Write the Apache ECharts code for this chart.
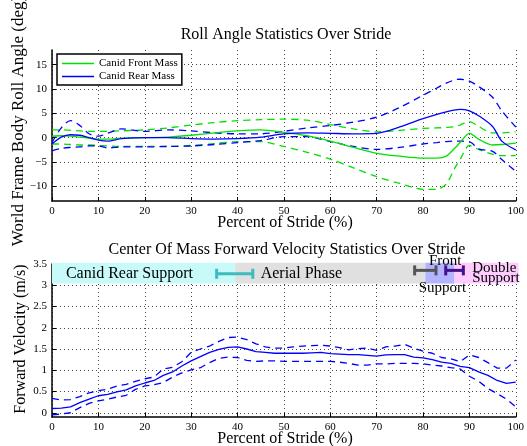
<!DOCTYPE html>
<html>
<head>
<meta charset="utf-8">
<script src="https://cdn.jsdelivr.net/npm/echarts@6/dist/echarts.min.js"></script>
<style>
  html, body { margin: 0; padding: 0; background: #fff; }
  #chart { width: 527px; height: 446px; }
</style>
</head>
<body>
<div id="chart"></div>
<script>
// ---- Roll angle statistics (deg) vs percent of stride ----
const rollPct = [0,2,4,6,8,10,12,15,20,25,30,35,40,45,50,55,60,65,70,75,80,83,85,87,88,90,92,95,97,100];
const frontMean  = [0.3,0.4,0.3,0.1,-0.1,-0.3,-0.3,-0.1,0,0.1,0.5,1.0,1.4,1.6,1.1,0.4,-0.7,-2.0,-3.2,-3.8,-4.2,-4.2,-3.8,-2.0,-1.0,0.9,-0.3,-1.5,-1.4,-1.1];
const frontUpper = [1.6,1.6,1.5,1.4,1.3,1.3,1.3,1.4,1.6,2.0,2.6,3.1,3.5,3.7,3.8,3.6,2.7,1.8,1.2,1.5,1.9,2.0,2.1,2.3,2.6,3.3,2.3,1.0,1.0,1.2];
const frontLower = [-1.3,-1.3,-1.4,-1.5,-1.5,-1.6,-1.7,-1.8,-1.8,-1.8,-1.6,-1.2,-0.8,-0.8,-1.8,-3.0,-4.4,-6.2,-8.0,-9.4,-10.6,-10.6,-9.5,-6.0,-4.5,-1.6,-2.4,-3.4,-3.7,-3.7];
const rearMean   = [-1.3,0.1,0.6,0.5,0,-0.5,-0.7,-0.2,0,0,-0.2,-0.3,-0.2,0.1,0.8,1.0,0.9,0.8,0.9,2.2,3.9,4.8,5.3,5.7,5.8,5.5,4.5,2.3,-0.7,-2.5];
const rearUpper  = [-1.0,2.0,3.5,2.5,0.8,0.3,0.9,1.8,1.3,1.6,1.4,1.0,0.8,0.8,1.3,2.0,2.5,3.2,4.2,6.2,8.7,10.2,11.2,11.9,12.0,11.6,10.5,8.3,5.5,2.2];
const rearLower  = [-2.7,-2.2,-2.0,-1.9,-1.7,-1.7,-2.1,-1.9,-1.9,-1.8,-1.7,-1.4,-1.0,-0.6,0.2,0.2,-0.8,-1.8,-2.4,-2.0,-1.3,-1.0,-0.8,-0.7,-0.7,-0.8,-2.3,-2.8,-4.5,-6.9];

// ---- Forward velocity statistics (m/s) vs percent of stride ----
const velPct = [0,2,4,6,8,10,12,14,16,18,20,22,24,26,28,30,32,34,36,38,40,42,44,46,48,50,52,54,56,58,60,62,64,66,68,70,72,74,76,78,80,82,84,86,88,90,92,94,96,98,100];
const velMean  = [0.10,0.11,0.14,0.24,0.32,0.40,0.43,0.49,0.54,0.63,0.70,0.76,0.88,0.96,1.10,1.22,1.32,1.42,1.49,1.54,1.55,1.50,1.44,1.42,1.40,1.40,1.40,1.40,1.41,1.42,1.39,1.38,1.37,1.37,1.35,1.33,1.36,1.37,1.37,1.31,1.29,1.25,1.19,1.16,1.09,1.06,0.96,0.88,0.76,0.69,0.72];
const velUpper = [0.34,0.30,0.31,0.38,0.47,0.52,0.55,0.63,0.67,0.74,0.80,0.84,1.03,1.07,1.20,1.42,1.50,1.57,1.68,1.77,1.78,1.72,1.62,1.55,1.52,1.52,1.55,1.57,1.58,1.59,1.57,1.53,1.48,1.51,1.52,1.47,1.55,1.57,1.61,1.52,1.45,1.40,1.30,1.27,1.20,1.36,1.30,1.18,1.05,1.05,1.24];
const velLower = [-0.05,-0.03,0.00,0.12,0.22,0.28,0.32,0.37,0.41,0.55,0.63,0.66,0.71,0.84,0.94,1.01,1.06,1.18,1.28,1.31,1.30,1.23,1.21,1.22,1.22,1.21,1.21,1.21,1.21,1.21,1.21,1.19,1.16,1.12,1.12,1.15,1.15,1.16,1.16,1.16,1.15,1.12,1.10,1.06,1.03,0.86,0.74,0.57,0.45,0.32,0.14];

// ---- Gait phases (percent of stride) ----
const phaseStart = [0, 39.5, 80.5, 86.8];
const phaseEnd   = [39.5, 80.5, 86.8, 100.6];
// transition spread bars: centre and half-width (percent), vertical position (m/s)
const barCentre = [39.4, 80.5, 86.8];
const barHalf   = [3.9, 2.3, 1.9];
const barLevel  = [3.27, 3.35, 3.35];
// phase name labels: text, position (percent, m/s), alignment, size
const phaseLabelText  = ['Canid Rear Support', 'Aerial Phase', 'Front', 'Support', 'Double', 'Support'];
const phaseLabelPct   = [3, 45, 84.8, 84.2, 90.6, 90.6];
const phaseLabelLevel = [3.28, 3.28, 3.58, 2.94, 3.41, 3.17];
const phaseLabelAlign = ['left', 'left', 'center', 'center', 'left', 'left'];
const phaseLabelSize  = [16, 16, 15, 15, 15, 15];

const rollTicks = [-10, -5, 0, 5, 10, 15];
const velTicks  = [0, 0.5, 1, 1.5, 2, 2.5, 3, 3.5];

const GREEN = '#00e000';
const BLUE = '#0000ff';
const SERIF = '"Liberation Serif", "DejaVu Serif", serif';
const phaseColours = ['#c8fafa', '#e0e0e0', '#b3b3ff', '#ffccff'];
const barColours = ['#3cbcbc', '#555555', '#44108c'];

const pairs = (xs, ys) => xs.map((x, i) => [x, ys[i]]);
const minusSign = v => String(v).replace('-', '\u2212');

function xAxisFor(gridIndex) {
  return {
    gridIndex, type: 'value', min: 0, max: 100, interval: 10,
    axisLine: { show: true, onZero: false, lineStyle: { color: '#000', width: 1.5 } },
    axisTick: { show: true, inside: true, length: 4, lineStyle: { color: '#000' } },
    axisLabel: { color: '#000', fontFamily: SERIF, fontSize: 11, margin: 5 },
    splitLine: { show: true, lineStyle: { color: '#444', type: [1, 3], width: 1 } }
  };
}
function yAxisFor(gridIndex, min, max, ticks) {
  return {
    gridIndex, type: 'value', min, max,
    axisLine: { show: true, onZero: false, lineStyle: { color: '#000', width: 1.5 } },
    axisTick: { show: true, inside: true, length: 4, customValues: ticks, lineStyle: { color: '#000' } },
    axisLabel: { color: '#000', fontFamily: SERIF, fontSize: 11, margin: 5, customValues: ticks, formatter: minusSign },
    splitLine: { show: true, lineStyle: { color: '#444', type: [1, 3], width: 1 } }
  };
}

function line(name, xs, ys, colour, dashed, xi, smooth) {
  return {
    name, type: 'line', xAxisIndex: xi, yAxisIndex: xi,
    data: pairs(xs, ys), symbol: 'none', showSymbol: false, smooth: smooth,
    lineStyle: { color: colour, width: 1.3, type: dashed ? [7, 5] : 'solid' },
    itemStyle: { color: colour }, z: dashed ? 3 : 4, silent: true
  };
}

const phaseData = phaseStart.map((s, i) => [s, phaseEnd[i], i]);
const barData = barCentre.map((c, i) => [c, barHalf[i], barLevel[i], i]);
const labelData = phaseLabelText.map((t, i) => [phaseLabelPct[i], phaseLabelLevel[i], i]);

const chart = echarts.init(document.getElementById('chart'));
chart.setOption({
  animation: false,
  backgroundColor: '#fff',
  grid: [
    { left: 52, right: 7, top: 50, height: 151 },
    { left: 52, right: 7, top: 264, height: 153 }
  ],
  xAxis: [xAxisFor(0), xAxisFor(1)],
  yAxis: [yAxisFor(0, -13, 18, rollTicks), yAxisFor(1, -0.1, 3.5, velTicks)],
  legend: {
    data: [
      { name: 'Canid Front Mass', icon: 'rect' },
      { name: 'Canid Rear Mass', icon: 'rect' }
    ],
    orient: 'vertical', left: 57, top: 54,
    padding: [3, 4, 2, 5], itemGap: 0, itemWidth: 32, itemHeight: 1.5,
    borderColor: '#000', borderWidth: 1.5, backgroundColor: '#fff',
    textStyle: { color: '#000', fontFamily: SERIF, fontSize: 11, lineHeight: 13, padding: [0, 0, 0, 0] }
  },
  graphic: [
    { type: 'text', x: 286, y: 35, style: { text: 'Roll Angle Statistics Over Stride', font: '16px ' + SERIF, fill: '#000', align: 'center', verticalAlign: 'middle' } },
    { type: 'text', x: 285, y: 223, style: { text: 'Percent of Stride (%)', font: '16px ' + SERIF, fill: '#000', align: 'center', verticalAlign: 'middle' } },
    { type: 'text', x: 19, y: 121, rotation: Math.PI / 2, style: { text: 'World Frame Body Roll Angle (deg)', font: '17px ' + SERIF, fill: '#000', align: 'center', verticalAlign: 'middle' } },
    { type: 'text', x: 287, y: 250, style: { text: 'Center Of Mass Forward Velocity Statistics Over Stride', font: '16px ' + SERIF, fill: '#000', align: 'center', verticalAlign: 'middle' } },
    { type: 'text', x: 285, y: 439, style: { text: 'Percent of Stride (%)', font: '16px ' + SERIF, fill: '#000', align: 'center', verticalAlign: 'middle' } },
    { type: 'text', x: 21, y: 339, rotation: Math.PI / 2, style: { text: 'Forward Velocity (m/s)', font: '16px ' + SERIF, fill: '#000', align: 'center', verticalAlign: 'middle' } }
  ],
  series: [
    // gait phase bands
    {
      type: 'custom', xAxisIndex: 1, yAxisIndex: 1, clip: false, silent: true, z: 1,
      data: phaseData,
      renderItem: (params, api) => {
        const a = api.coord([api.value(0), 3.04]);
        const b = api.coord([api.value(1), 3.53]);
        return { type: 'rect', shape: { x: a[0], y: b[1], width: b[0] - a[0], height: a[1] - b[1] },
                 style: { fill: phaseColours[api.value(2)] } };
      }
    },
    // phase transition spread bars
    {
      type: 'custom', xAxisIndex: 1, yAxisIndex: 1, clip: false, silent: true, z: 5,
      data: barData,
      renderItem: (params, api) => {
        const c = api.value(0), h = api.value(1), lv = api.value(2);
        const l = api.coord([c - h, lv]), r = api.coord([c + h, lv]);
        const col = barColours[api.value(3)];
        const st = { stroke: col, lineWidth: 3 };
        return { type: 'group', children: [
          { type: 'line', shape: { x1: l[0], y1: l[1], x2: r[0], y2: r[1] }, style: st },
          { type: 'line', shape: { x1: l[0], y1: l[1] - 5, x2: l[0], y2: l[1] + 5 }, style: st },
          { type: 'line', shape: { x1: r[0], y1: r[1] - 5, x2: r[0], y2: r[1] + 5 }, style: st }
        ] };
      }
    },
    // phase names
    {
      type: 'custom', xAxisIndex: 1, yAxisIndex: 1, clip: false, silent: true, z: 6,
      data: labelData,
      renderItem: (params, api) => {
        const i = api.value(2);
        const p = api.coord([api.value(0), api.value(1)]);
        return { type: 'text', x: p[0], y: p[1],
                 style: { text: phaseLabelText[i], font: phaseLabelSize[i] + 'px ' + SERIF, fill: '#000',
                          align: phaseLabelAlign[i], verticalAlign: 'middle' } };
      }
    },
    line('Front Mass upper', rollPct, frontUpper, GREEN, true, 0, 0.3),
    line('Front Mass lower', rollPct, frontLower, GREEN, true, 0, 0.3),
    line('Rear Mass upper', rollPct, rearUpper, BLUE, true, 0, 0.3),
    line('Rear Mass lower', rollPct, rearLower, BLUE, true, 0, 0.3),
    line('Canid Front Mass', rollPct, frontMean, GREEN, false, 0, 0.3),
    line('Canid Rear Mass', rollPct, rearMean, BLUE, false, 0, 0.3),
    line('Velocity upper', velPct, velUpper, BLUE, true, 1, false),
    line('Velocity lower', velPct, velLower, BLUE, true, 1, false),
    line('Velocity mean', velPct, velMean, BLUE, false, 1, false)
  ]
});
</script>
</body>
</html>
